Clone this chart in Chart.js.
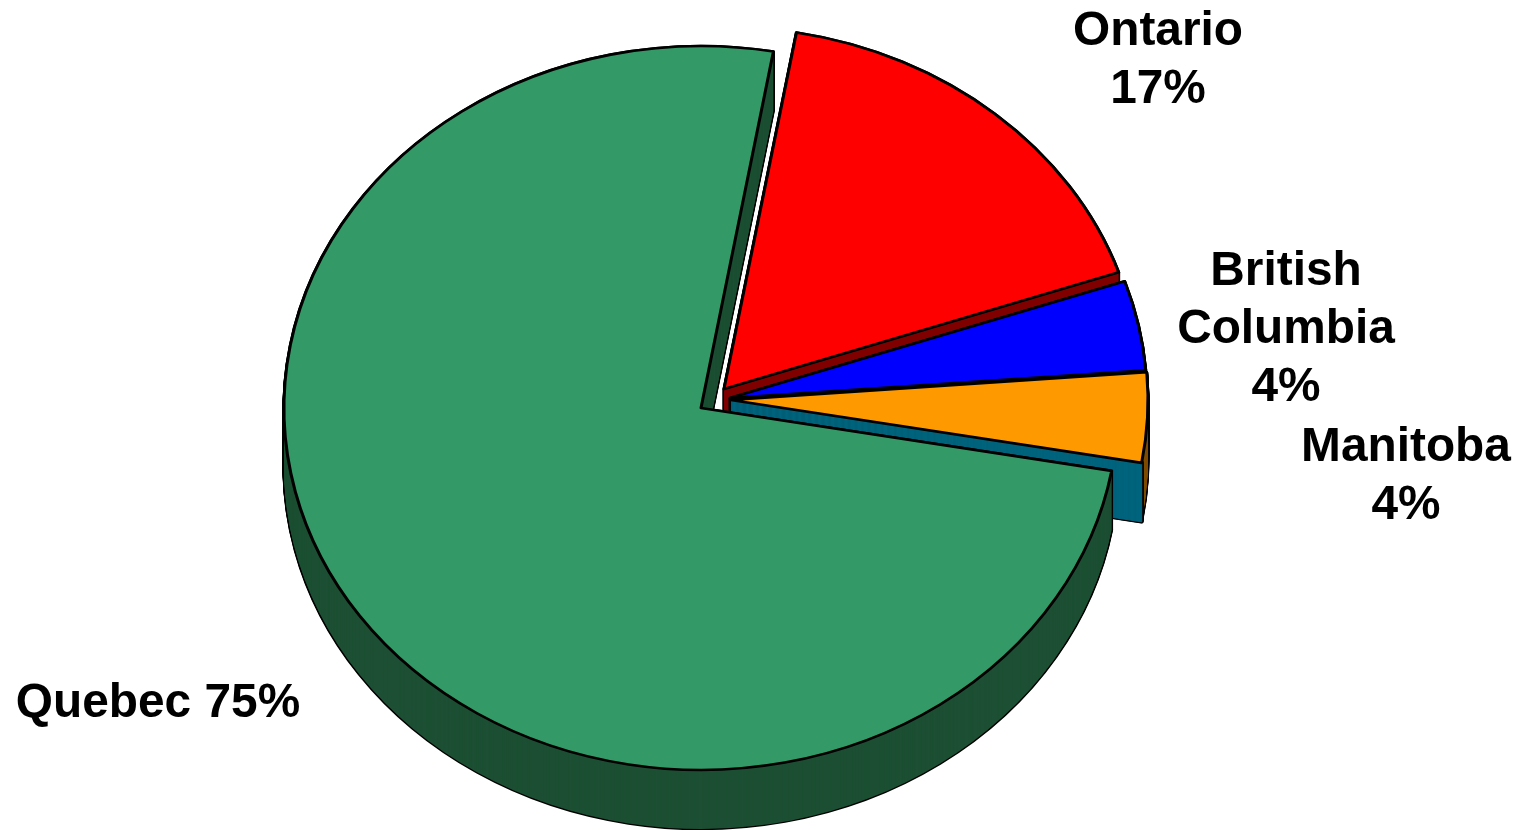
<!DOCTYPE html>
<html>
<head>
<meta charset="utf-8">
<title>Share by province</title>
<script src="https://cdn.jsdelivr.net/npm/chart.js@4"></script>
<style>
  html, body { margin: 0; padding: 0; background: #fff; overflow: hidden; }
  #frame { width: 1518px; height: 830px; overflow: hidden; }
  canvas { display: block; }
</style>
</head>
<body>
<div id="frame"><canvas id="pie" width="1518" height="836"></canvas></div>
<script>
// Slices run clockwise, back to front, so later slices paint over earlier ones.
const provinces = ['Ontario', 'British Columbia', 'Manitoba', 'Quebec'];
const shares = [17, 4, 4, 75];

const topColors = ['#FF0000', '#0000FF', '#FF9900', '#339966'];
const rimColors = ['#800000', '#000000', '#7F4C00', '#1C4F33'];
const cutFaceColors = ['#800000', '#000000', '#006680', '#1C4F33'];

// Where each exploded slice's apex lands on the page.
const apexes = [[724, 389], [730, 398], [731, 400], [701, 408]];
const TILT = 0.868;
const DEPTH = 59;
const STROKE = 3;

const labelFont = 'bold 47.8px "Liberation Sans", Arial, sans-serif';
const labelLayout = [
  { x: 1158, y: 45, lead: 58, lines: i => ['Ontario', shares[i] + '%'] },
  { x: 1286, y: 285, lead: 58, lines: i => ['British', 'Columbia', shares[i] + '%'] },
  { x: 1406, y: 461, lead: 58, lines: i => [provinces[i], shares[i] + '%'] },
  { x: 158, y: 717, lead: 58, lines: i => [provinces[i] + ' ' + shares[i] + '%'] }
];

function arcStyle(fill, line, width) {
  return {
    backgroundColor: fill, borderColor: line, borderWidth: width,
    borderAlign: 'center', borderJoinStyle: 'round', borderRadius: 0,
    borderDash: [], borderDashOffset: 0, offset: 0, spacing: 0, circular: true
  };
}

// Paints one arc element on the tilted plane, apex at (ax, ay + drop).
function paintArc(ctx, el, ax, ay, drop, style) {
  const saved = el.options;
  el.options = style;
  ctx.save();
  ctx.translate(ax, ay + drop);
  ctx.scale(1, TILT);
  ctx.translate(-el.x, -el.y);
  el.draw(ctx);
  ctx.restore();
  el.options = saved;
}

function extrude(ctx, el, ax, ay, outline, inner) {
  for (let d = DEPTH; d >= 0; d--) paintArc(ctx, el, ax, ay, d, outline);
  for (let d = DEPTH; d >= 0; d--) paintArc(ctx, el, ax, ay, d, inner);
}

const tiltedPie = {
  id: 'tiltedPie',
  beforeDatasetsDraw(chart) {
    const ctx = chart.ctx;
    chart.getDatasetMeta(0).data.forEach((el, i) => {
      const [ax, ay] = apexes[i];
      extrude(ctx, el, ax, ay,
        arcStyle('#000', '#000', STROKE),
        arcStyle(rimColors[i], rimColors[i], 0));

      // The cut face along the slice's trailing edge, if it has its own colour.
      if (cutFaceColors[i] !== rimColors[i]) {
        const start = el.startAngle;
        el.startAngle = el.endAngle - 0.002;
        extrude(ctx, el, ax, ay,
          arcStyle('#000', '#000', STROKE + 1),
          arcStyle(cutFaceColors[i], cutFaceColors[i], 1));
        el.startAngle = start;
      }
      paintArc(ctx, el, ax, ay, 0, arcStyle(topColors[i], '#000', STROKE));
    });
    return false;
  },
  afterDraw(chart) {
    const ctx = chart.ctx;
    ctx.save();
    ctx.font = labelFont;
    ctx.fillStyle = '#000';
    ctx.textAlign = 'center';
    ctx.textBaseline = 'alphabetic';
    labelLayout.forEach((spot, i) => {
      spot.lines(i).forEach((text, n) => ctx.fillText(text, spot.x, spot.y + n * spot.lead));
    });
    ctx.restore();
  }
};

new Chart(document.getElementById('pie'), {
  type: 'pie',
  data: {
    labels: provinces,
    datasets: [{ data: shares, backgroundColor: topColors, borderColor: '#000' }]
  },
  options: {
    responsive: false,
    animation: false,
    rotation: 10,
    layout: { padding: 0 },
    plugins: { legend: { display: false }, tooltip: { enabled: false } }
  },
  plugins: [tiltedPie]
});
</script>
</body>
</html>
